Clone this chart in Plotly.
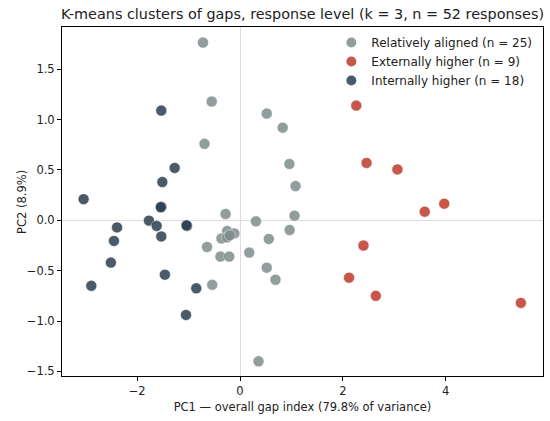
import plotly.graph_objects as go

# Relatively aligned (n = 25)
aligned_x = [-0.72, -0.55, 0.52, 0.83, -0.69, 0.96, 1.08, -0.28, 0.31, 1.06,
             -0.25, -0.11, -0.36, -0.25, -0.20, 0.965, 0.56, -0.64, 0.18, -0.38,
             -0.21, 0.52, 0.69, -0.54, 0.36]
aligned_y = [1.765, 1.18, 1.06, 0.92, 0.76, 0.56, 0.34, 0.063, -0.01, 0.046,
             -0.107, -0.13, -0.18, -0.17, -0.15, -0.096, -0.185, -0.265, -0.32, -0.36,
             -0.36, -0.47, -0.59, -0.64, -1.40]

# Externally higher (n = 9)
external_x = [2.26, 2.46, 3.06, 3.97, 3.59, 2.40, 2.12, 2.64, 5.46]
external_y = [1.14, 0.57, 0.506, 0.165, 0.086, -0.25, -0.57, -0.75, -0.82]

# Internally higher (n = 18)
internal_x = [-3.04, -1.53, -1.27, -1.51, -1.53, -1.54, -1.77, -1.62, -1.03, -1.04,
              -2.39, -1.53, -2.45, -2.51, -1.46, -2.89, -0.85, -1.05]
internal_y = [0.21, 1.09, 0.52, 0.38, 0.136, 0.13, -0.003, -0.056, -0.056, -0.05,
              -0.07, -0.16, -0.205, -0.42, -0.54, -0.65, -0.675, -0.94]

series = [
    ("Relatively aligned (n = 25)", aligned_x, aligned_y, "#7f8c8d"),
    ("Externally higher (n = 9)", external_x, external_y, "#c0392b"),
    ("Internally higher (n = 18)", internal_x, internal_y, "#2c3e50"),
]

fig = go.Figure()
for name, xs, ys, col in series:
    fig.add_trace(go.Scatter(
        x=xs, y=ys, mode="markers", name=name,
        marker=dict(size=11, color=col, opacity=0.85,
                    line=dict(color="white", width=0.5)),
    ))

axis_common = dict(
    showgrid=False, showline=True, linecolor="black", linewidth=1, mirror=True,
    ticks="outside", ticklen=4, tickcolor="black", tickwidth=1,
    zeroline=True, zerolinecolor="#dddddd", zerolinewidth=1,
    tickfont=dict(size=11.5, color="#222"), automargin=False,
)

fig.update_layout(
    width=550, height=421,
    margin=dict(l=62, r=7, t=27, b=45, autoexpand=False),
    paper_bgcolor="white", plot_bgcolor="white",
    font=dict(family="DejaVu Sans", size=11.5, color="#222"),
    title=dict(text="K-means clusters of gaps, response level (k = 3, n = 52 responses)",
               x=0.5, xref="paper", xanchor="center", y=0.967, yref="container",
               yanchor="middle", font=dict(size=14.4, color="#222")),
    xaxis=dict(range=[-3.46, 5.89], tickvals=[-2, 0, 2, 4], ticktext=["−2", "0", "2", "4"],
               title=dict(text="PC1 — overall gap index (79.8% of variance)",
                          font=dict(size=11.5), standoff=6), **axis_common),
    yaxis=dict(range=[-1.546, 1.92], tickvals=[-1.5, -1.0, -0.5, 0, 0.5, 1.0, 1.5],
               ticktext=["−1.5", "−1.0", "−0.5", "0.0", "0.5", "1.0", "1.5"],
               **axis_common),
    legend=dict(x=0.56, y=0.997, xanchor="left", yanchor="top",
                bgcolor="rgba(255,255,255,0)", borderwidth=0,
                font=dict(size=12), tracegroupgap=0, itemsizing="constant"),
    showlegend=True,
    annotations=[dict(text="PC2 (8.9%)", textangle=-90, xref="paper", yref="paper",
                      x=-0.0842, y=0.5, xanchor="center", yanchor="middle",
                      showarrow=False, font=dict(size=11.5, color="#222"))],
)

fig.write_html("out.html", config={"displayModeBar": False},
               post_script="document.body.style.margin='0';document.body.style.overflow='hidden';")
